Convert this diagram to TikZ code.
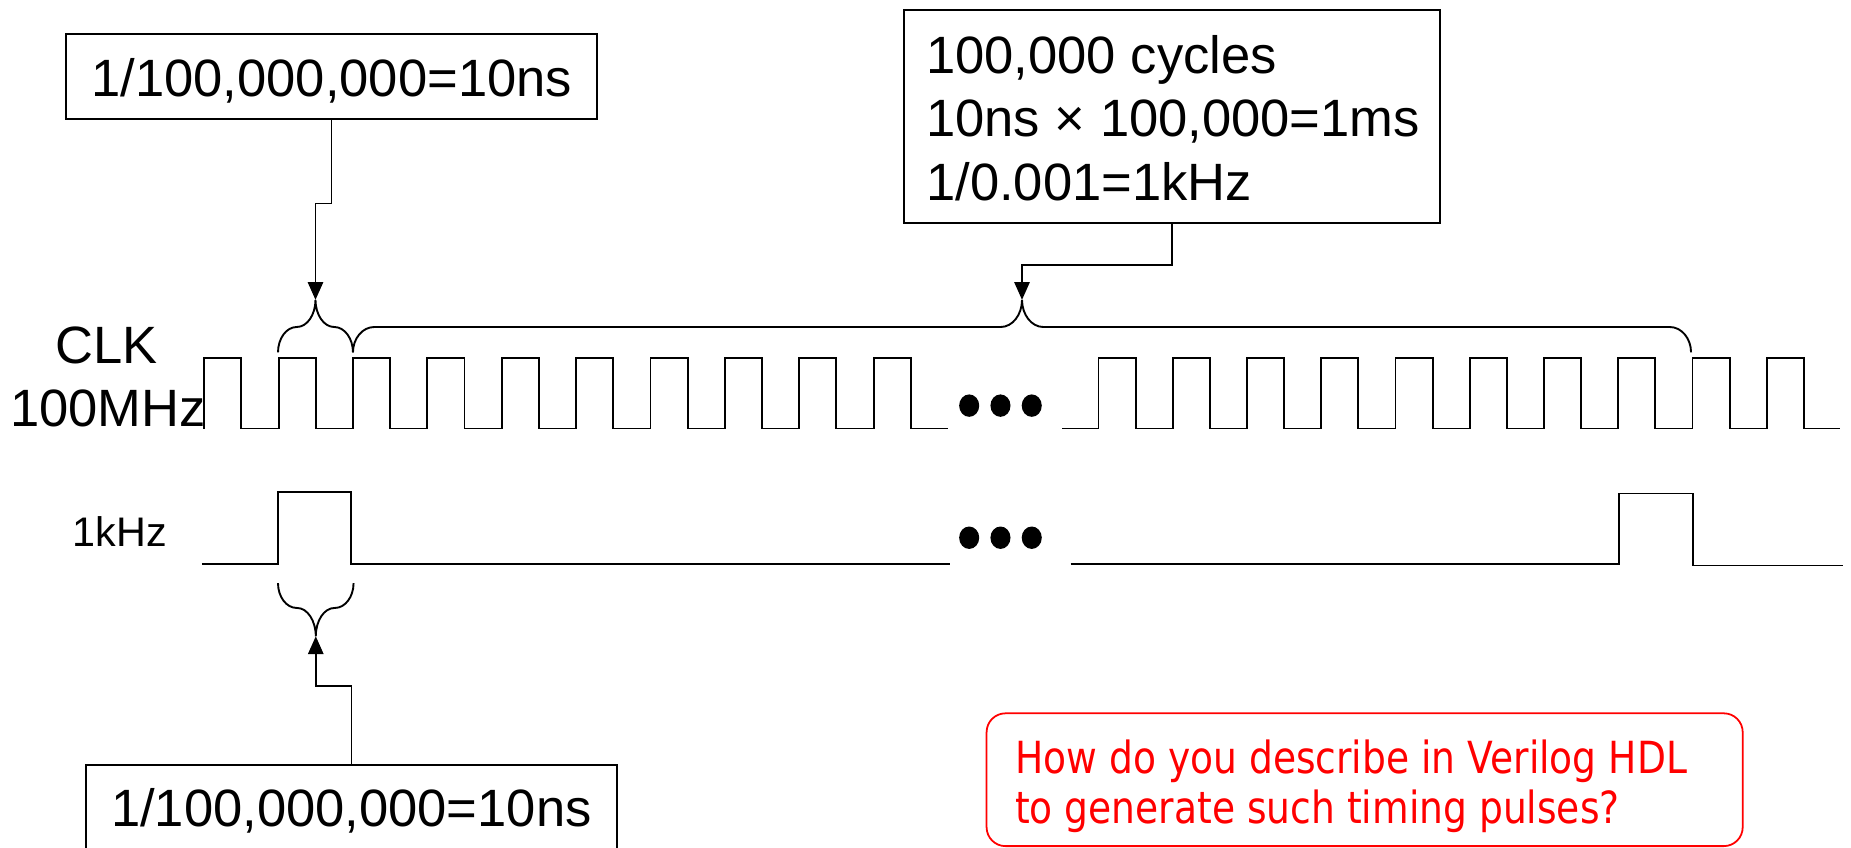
\documentclass[tikz,border=0pt]{standalone}
\usepackage{fontspec}
\setmainfont{Liberation Sans}
\newfontfamily\myredfont{DejaVu Sans}
\usepackage{graphicx}
\usetikzlibrary{arrows.meta}
\newlength\myredw
\newcommand{\myredsx}{1}
% #1 x-start, #2 x-end, #3 y of ends, #4 y of arms, #5 y of tip, #6 curve size
\newcommand{\mybrace}[6]{%
  \draw[brc] (#1,#3) .. controls +(0,{0.55*(#4-#3)}) and +({-0.55*#6},0) .. ({#1+#6},#4)
    -- ({(#1+#2)/2-#6},#4) .. controls +({0.55*#6},0) and +(0,{0.55*(#4-#5)}) .. ({(#1+#2)/2},#5)
    .. controls +(0,{0.55*(#4-#5)}) and +({-0.55*#6},0) .. ({(#1+#2)/2+#6},#4)
    -- ({#2-#6},#4) .. controls +({0.55*#6},0) and +(0,{0.55*(#4-#3)}) .. (#2,#3);}
\begin{document}
\settowidth{\myredw}{\myredfont\fontsize{37.5}{42}\selectfont How do you describe in Verilog HDL}%
\pgfmathsetmacro\myredsx{569/\myredw}%
\begin{tikzpicture}[x=1pt,y=-1pt,
  bigtxt/.style={font=\fontsize{44.5}{54}\selectfont, inner sep=0pt},
  boxnode/.style={draw, line width=1.7pt, inner sep=0pt, font=\fontsize{44.5}{54}\selectfont},
  wave/.style={line width=1.6pt},
  brc/.style={line width=1.6pt},
  arr/.style={line width=1.3pt, -{Triangle[width=13pt,length=15pt]}},
  dot/.style={fill=black},
  redbox/.style={draw=red, line width=1.5pt, rounded corners=16pt, inner sep=0pt}]
\useasboundingbox (0,0) rectangle (1568,718);
\clip (0,0) rectangle (1568,718);

% ---- text boxes
\node[boxnode, minimum width=450pt, minimum height=72pt, text height=34pt, text depth=0pt]
  (box1) at (281,65) {1/100,000,000=10ns};
\node[boxnode, minimum width=454.5pt, minimum height=180pt] (box2) at (992.75,98.5) {};
\node[bigtxt, anchor=base west] (t2a) at (784.5,62) {100,000 cycles};
\node[bigtxt, anchor=base west] (t2b) at (784.5,116) {10ns × 100,000=1ms};
\node[bigtxt, anchor=base west] (t2c) at (784.5,170) {1/0.001=1kHz};
\node[boxnode, minimum width=450pt, minimum height=90pt, text height=14pt, text depth=0pt]
  (box3) at (297.6,693) {1/100,000,000=10ns};

% ---- signal labels
\node[bigtxt, anchor=base] (clk) at (90.5,308) {CLK};
\node[bigtxt, anchor=base] (mhz) at (91.5,361) {100MHz};
\node[inner sep=0pt, font=\fontsize{35}{40}\selectfont, anchor=base] (khz) at (101.5,463) {1kHz};

% ---- CLK waveform
\draw[wave] (173,363) \foreach \k in {0,...,9} {
   -- ({173+63*\k},303) -- ({204.5+63*\k},303) -- ({204.5+63*\k},363) -- ({236+63*\k},363) };
\draw[wave] (900,363) \foreach \k in {0,...,9} {
   -- ({930.5+62.9*\k},363) -- ({930.5+62.9*\k},303) -- ({962+62.9*\k},303) -- ({962+62.9*\k},363) }
   -- (1559,363);

% ---- 1kHz waveform
\draw[wave] (171,478) -- (235.5,478) -- (235.5,416.5) -- (297.5,416.5) -- (297.5,478) -- (805,478);
\draw[wave] (907,478) -- (1371.5,478) -- (1371.5,418) -- (1434,418) -- (1434,479) -- (1561,479);

% ---- ellipsis dots
\foreach \xx in {821,847.5,874} {
  \fill[dot] (\xx,343.6) ellipse [x radius=8.5pt, y radius=9.5pt];
  \fill[dot] (\xx,455.5) ellipse [x radius=8.5pt, y radius=9.5pt];
}

% ---- braces
\coordinate (tip1) at (267.25,254);
\coordinate (tip2) at (865.75,254);
\coordinate (tip3) at (267.5,539);
\mybrace{235.5}{299}{298.5}{277}{254}{15.8}
\mybrace{299}{1432.5}{298.5}{277}{254}{18}
\mybrace{235.5}{299.5}{494}{515}{539}{15.8}

% ---- connectors
\draw[arr] (box1.south) -- ++(0,70.7) -| (tip1);
\draw[arr] (box2.south) -- ++(0,35) -| (tip2);
\draw[arr] (box3.north) -- ++(0,-66) -| (tip3);

% ---- red question box
\node[redbox, minimum width=640.5pt, minimum height=112.5pt] (q) at (1156,660.5) {};
\node[inner sep=0pt, anchor=base west, text=red] (q1) at (859.8,655)
  {\scalebox{\myredsx}[1]{\myredfont\fontsize{37.5}{42}\selectfont How do you describe in Verilog HDL}};
\node[inner sep=0pt, anchor=base west, text=red] (q2) at (859.8,697.4)
  {\scalebox{\myredsx}[1]{\myredfont\fontsize{37.5}{42}\selectfont to generate such timing pulses?}};
\end{tikzpicture}
\end{document}
